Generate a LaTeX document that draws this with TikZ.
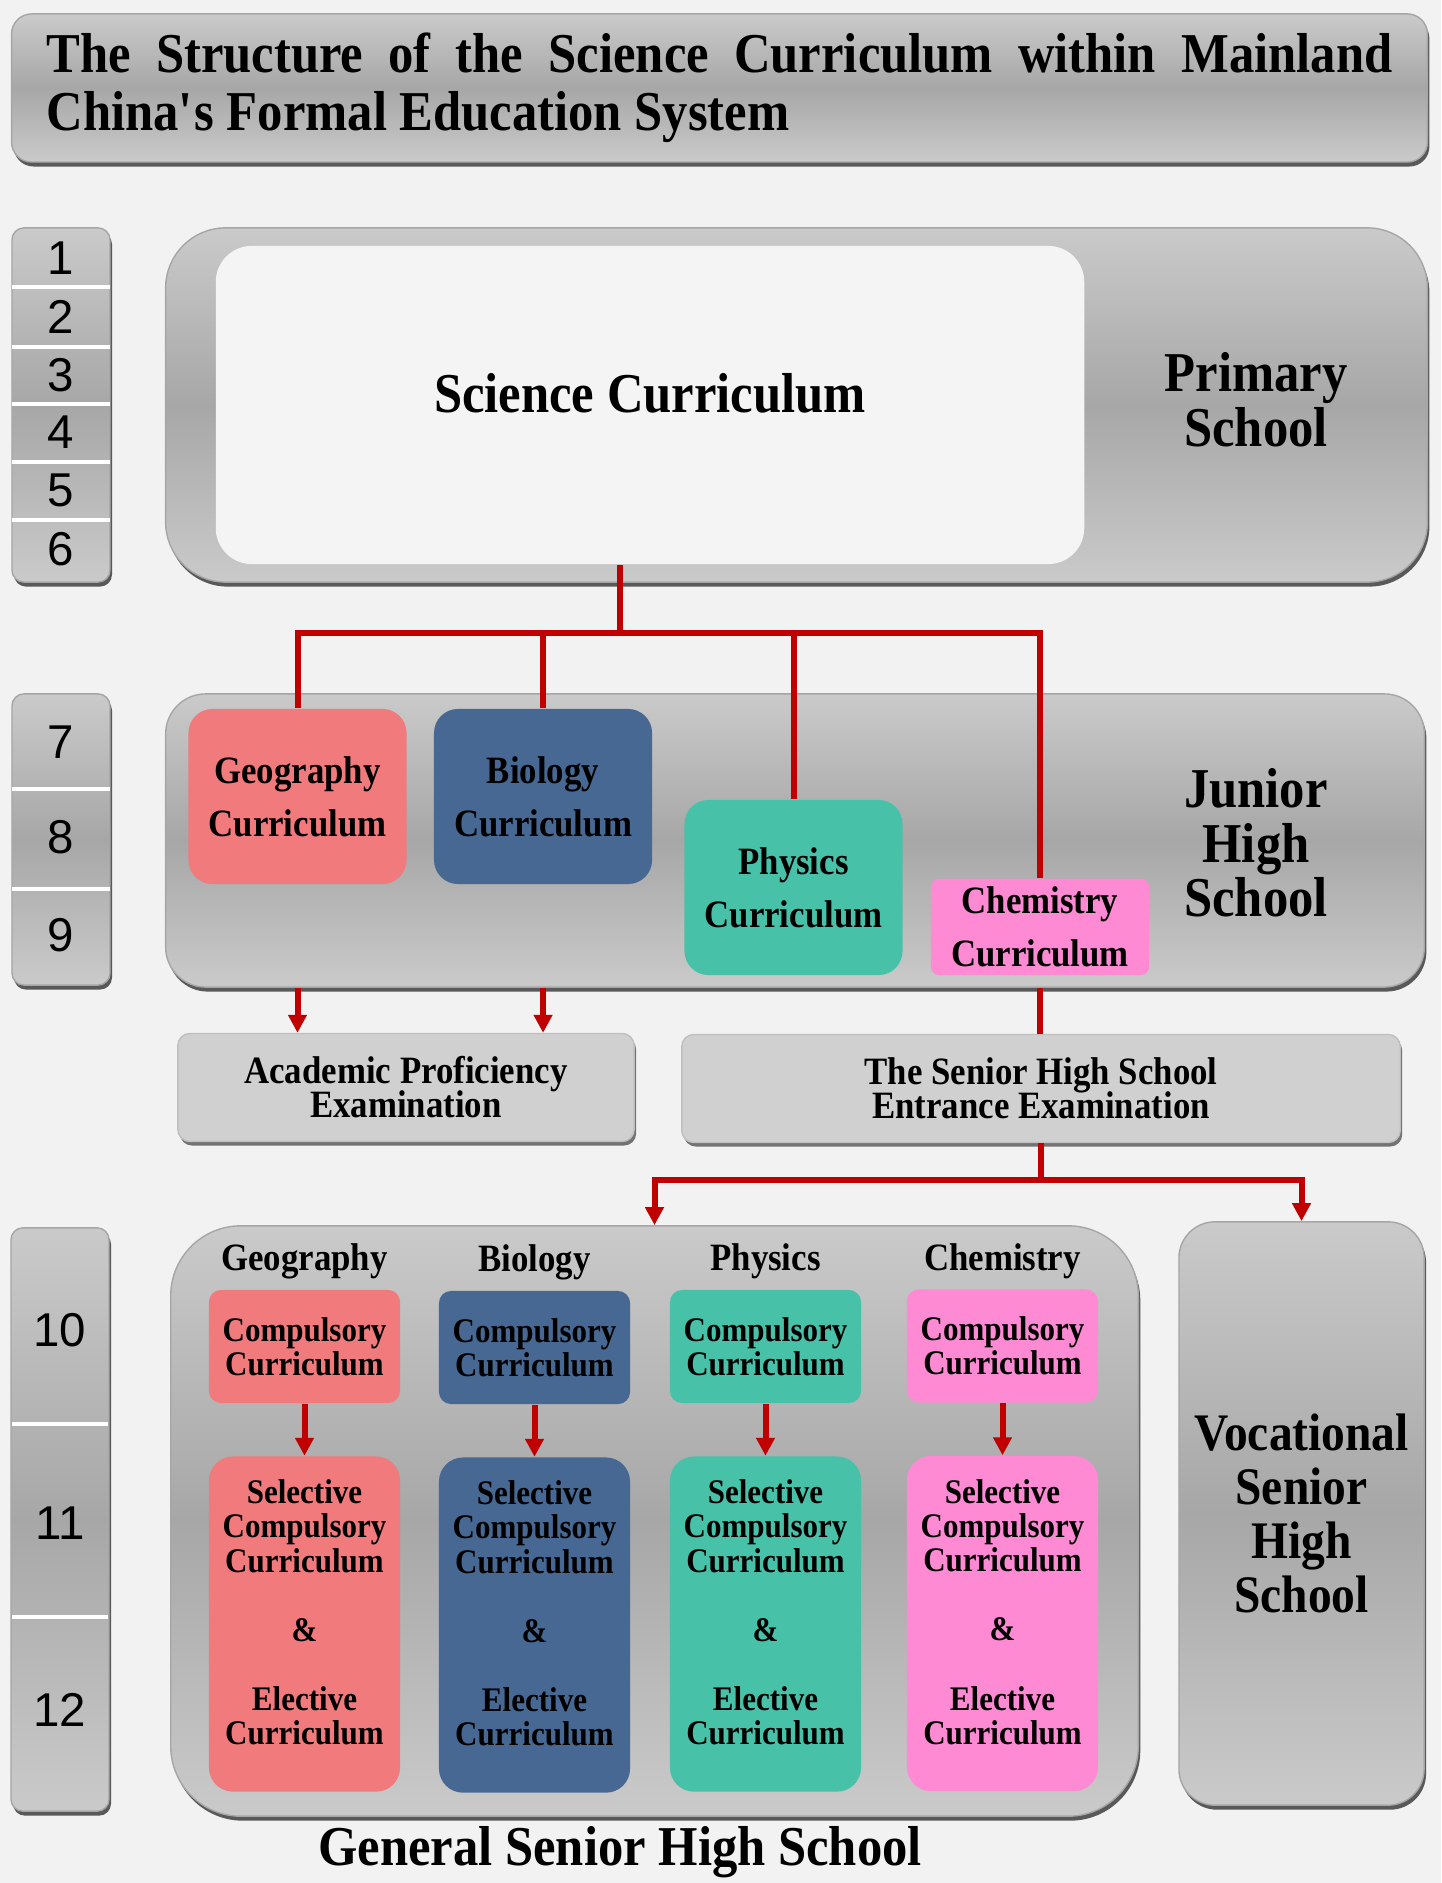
\documentclass[tikz,border=0pt]{standalone}
\usepackage{fontspec}
\setmainfont{Liberation Serif}[FakeStretch=0.9]
\newfontfamily\gradefont{Liberation Sans}
\usepackage{xcolor}
\usepackage{tikz}
\usetikzlibrary{arrows.meta, positioning, shadows}

\definecolor{bgcol}{HTML}{F2F2F2}
\definecolor{panelhi}{HTML}{CACACA}
\definecolor{panelmid}{HTML}{A7A7A7}
\definecolor{examcol}{HTML}{D0D0D0}
\definecolor{innercol}{HTML}{F4F4F4}
\definecolor{geocol}{HTML}{F07A7C}
\definecolor{biocol}{HTML}{466892}
\definecolor{phycol}{HTML}{48C1A9}
\definecolor{chemcol}{HTML}{FD8AD2}
\definecolor{redcol}{HTML}{C00000}

\begin{document}
\begin{tikzpicture}[x=0.01cm, y=-0.01cm, font=\bfseries,
    panel/.style={draw=black!35, top color=panelhi, bottom color=panelhi, middle color=panelmid,
        drop shadow={shadow xshift=0.02cm, shadow yshift=-0.045cm, fill=black!65, opacity=1}},
    titlebox/.style={panel, rounded corners=0.2cm, minimum width=14.15cm, minimum height=1.48cm,
        text width=13.45cm, align=justify, font=\bfseries\fontsize{16}{16.5}\selectfont,
        execute at begin node={\tolerance=9999\hyphenpenalty=10000}},
    gradecol/.style={panel, rounded corners=0.12cm, minimum width=0.98cm},
    num/.style={font=\gradefont\fontsize{13.5}{14}\selectfont},
    divider/.style={white, line width=0.04cm},
    schoolbox/.style={panel},
    innerbox/.style={fill=innercol, rounded corners=0.36cm, minimum width=8.68cm, minimum height=3.18cm,
        text depth=0.24cm, font=\bfseries\fontsize{16}{19}\selectfont},
    schooltext/.style={align=center, font=\bfseries\fontsize{16}{15.5}\selectfont},
    subj/.style={rounded corners=0.24cm, minimum width=2.18cm, minimum height=1.75cm, inner sep=1pt,
        align=center, font=\bfseries\fontsize{11}{15}\selectfont},
    exam/.style={draw=black!25, fill=examcol, rounded corners=0.12cm, minimum height=1.08cm, align=center,
        drop shadow={shadow xshift=0.02cm, shadow yshift=-0.04cm, fill=black!55, opacity=1},
        font=\bfseries\fontsize{11}{9.7}\selectfont, execute at begin node={\lineskiplimit=-10pt\relax}},
    head/.style={inner sep=0pt, text height=0.7em, text depth=0.22em, font=\bfseries\fontsize{11}{13}\selectfont},
    comp/.style={rounded corners=0.12cm, minimum width=1.91cm, minimum height=1.13cm, inner sep=1pt,
        align=center, font=\bfseries\fontsize{9.8}{9.7}\selectfont, execute at begin node={\lineskiplimit=-10pt\relax}},
    sel/.style={comp, rounded corners=0.24cm, minimum height=3.35cm},
    link/.style={draw=redcol, line width=0.06cm},
    arrow/.style={link, -{Triangle[width=0.18cm, length=0.18cm]}}]

\fill[bgcol] (0,0) rectangle (1441,1883);
\useasboundingbox (0,0) rectangle (1441,1883);

% title
\node[titlebox] (title) at (719.5,88) {The Structure of the Science Curriculum within Mainland China\textquotesingle s Formal Education System};

% grade columns
\node[gradecol, minimum height=3.54cm] (col1) at (61,405) {};
\node[gradecol, minimum height=2.91cm] (col2) at (61,839.5) {};
\node[gradecol, minimum height=5.83cm] (col3) at (60,1519.5) {};
\draw[divider] (12,287) -- (110,287);
\draw[divider] (12,347) -- (110,347);
\draw[divider] (12,404) -- (110,404);
\draw[divider] (12,462) -- (110,462);
\draw[divider] (12,520) -- (110,520);
\draw[divider] (12,789) -- (110,789);
\draw[divider] (12,889) -- (110,889);
\draw[divider] (12,1424) -- (108,1424);
\draw[divider] (12,1617) -- (108,1617);
\node[num] (n1) at (61,258) {1};
\node[num] (n2) at (61,317) {2};
\node[num] (n3) at (61,375) {3};
\node[num] (n4) at (61,432) {4};
\node[num] (n5) at (61,490) {5};
\node[num] (n6) at (61,549) {6};
\node[num] (n7) at (61,742) {7};
\node[num] (n8) at (61,837) {8};
\node[num] (n9) at (61,935) {9};
\node[num] (n10) at (60,1330) {10};
\node[num] (n11) at (60,1523) {11};
\node[num] (n12) at (60,1710) {12};

% primary school
\node[schoolbox, rounded corners=0.6cm, minimum width=12.61cm, minimum height=3.54cm] (pri) at (796.5,405) {};
\node[innerbox] (sci) at (650,405) {Science Curriculum};
\node[schooltext] (pritext) at (1256,400) {Primary\\School};

% junior high school
\node[schoolbox, rounded corners=0.4cm, minimum width=12.58cm, minimum height=2.93cm] (jun) at (795,840.5) {};
\node[subj, fill=geocol] (geo) at (297.5,796.5) {Geography\\Curriculum};
\node[subj, fill=biocol, right=0.26cm of geo] (bio) {Biology\\Curriculum};
\node[subj, fill=phycol] (phys) at (793.5,887.5) {Physics\\Curriculum};
\node[subj, fill=chemcol, minimum height=0.96cm, rounded corners=0.08cm] (chem) at (1040,927) {Chemistry\\Curriculum};
\node[schooltext] (juntext) at (1256,843) {Junior\\High\\School};

\coordinate (hub) at (620,633);
\draw[link] (hub |- sci.south) -- (hub);
\draw[link] (geo.north) |- (hub -| chem.north) -- (chem.north);
\draw[link] (hub -| bio.north) -- (bio.north);
\draw[link] (hub -| phys.north) -- (phys.north);

% examinations
\node[exam, minimum width=4.56cm] (acad) at (406,1087.5) {Academic Proficiency\\Examination};
\node[exam, minimum width=7.18cm] (entr) at (1041,1088.5) {The Senior High School\\Entrance Examination};

\draw[arrow] (jun.south -| geo) -- (acad.north -| geo);
\draw[arrow] (jun.south -| bio) -- (acad.north -| bio);
\draw[link] (jun.south -| chem) -- (entr.north -| chem);

% senior high schools
\node[schoolbox, rounded corners=0.7cm, minimum width=9.67cm, minimum height=5.90cm] (gen) at (654.5,1521) {};
\node[schoolbox, rounded corners=0.36cm, minimum width=2.45cm, minimum height=5.83cm, align=center,
    font=\bfseries\fontsize{15}{15.4}\selectfont] (voc) at (1301.5,1513.5) {Vocational\\Senior\\High\\School};
\node[font=\bfseries\fontsize{16}{18}\selectfont] (gentext) at (620,1852) {General Senior High School};

\draw[link] (entr.south) -- ++(0,37) coordinate (split);
\draw[arrow] (split) -| (gen.north);
\draw[arrow] (split) -| (voc.north);

\node[comp, fill=geocol] (gcomp) at (304.5,1346.5) {Compulsory\\Curriculum};
\node[comp, fill=biocol] (bcomp) at (534.5,1347.5) {Compulsory\\Curriculum};
\node[comp, fill=phycol] (pcomp) at (765.5,1346.5) {Compulsory\\Curriculum};
\node[comp, fill=chemcol] (ccomp) at (1002.5,1346) {Compulsory\\Curriculum};

\node[head, above=0.1cm of gcomp] (ghead) {Geography};
\node[head, above=0.1cm of bcomp] (bhead) {Biology};
\node[head, above=0.1cm of pcomp] (phead) {Physics};
\node[head, above=0.1cm of ccomp] (chead) {Chemistry};

\node[sel, fill=geocol, below=0.52cm of gcomp] (gsel) {Selective\\Compulsory\\Curriculum\\[10pt]\&\\[10pt]Elective\\Curriculum\\[-3pt]};
\node[sel, fill=biocol, below=0.52cm of bcomp] (bsel) {Selective\\Compulsory\\Curriculum\\[10pt]\&\\[10pt]Elective\\Curriculum\\[-3pt]};
\node[sel, fill=phycol, below=0.52cm of pcomp] (psel) {Selective\\Compulsory\\Curriculum\\[10pt]\&\\[10pt]Elective\\Curriculum\\[-3pt]};
\node[sel, fill=chemcol, below=0.52cm of ccomp] (csel) {Selective\\Compulsory\\Curriculum\\[10pt]\&\\[10pt]Elective\\Curriculum\\[-3pt]};

\draw[arrow] (gcomp) -- (gsel);
\draw[arrow] (bcomp) -- (bsel);
\draw[arrow] (pcomp) -- (psel);
\draw[arrow] (ccomp) -- (csel);
\end{tikzpicture}
\end{document}
